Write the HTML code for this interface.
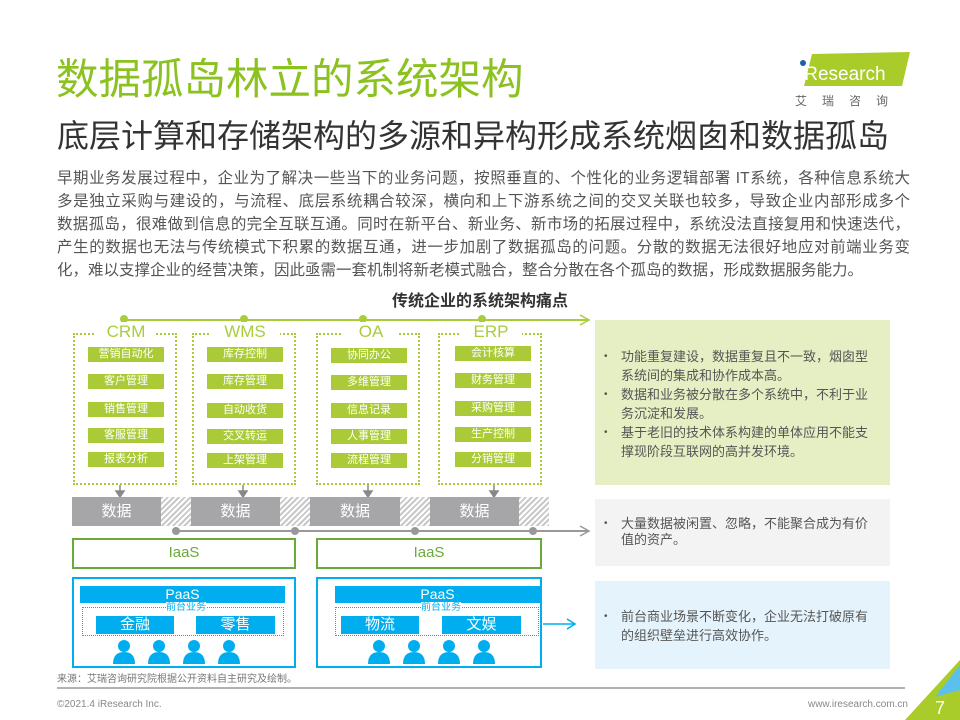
<!DOCTYPE html>
<html><head><meta charset="utf-8"><style>
*{margin:0;padding:0;box-sizing:border-box}
body{width:960px;height:720px;background:#fff;position:relative;overflow:hidden;font-family:"Liberation Sans","Noto Sans CJK SC",sans-serif}
.a{position:absolute}
.t1{left:56px;top:54px;font-size:42.5px;color:#8cc220;line-height:54px;white-space:nowrap}
.t2{left:57px;top:116px;font-size:32px;color:#333;line-height:40px;white-space:nowrap}
.p{left:57px;top:167px;width:853px;font-size:15.5px;color:#555;line-height:23px}
.p div{text-align:justify;text-align-last:justify;white-space:nowrap}
.db{border:2px dotted #a9cd3a}
.ttl{font-size:17px;color:#a9cd3a;background:#fff;padding:0 8px;text-align:center}
.g{background:#aacb37;color:#fff;font-size:11px;text-align:center;line-height:15px;height:15px;width:76px}
.gr{background:#a6a6a8;color:#fff;font-size:15px;text-align:center;line-height:29px;height:29px;top:497px}
.h{top:497px;height:29px;background:repeating-linear-gradient(135deg,#c8c8c8 0 2px,#fff 2px 4px)}
.ia{border:2px solid #6aaa3a;color:#6aaa3a;font-size:15px;text-align:center;line-height:26px;height:31px;top:538px}
.pa{border:2px solid #00aeef;top:577px;height:91px}
.bb{background:#00aeef;color:#fff;text-align:center}
.rp{left:595px;width:295px;font-size:13px;color:#555;line-height:19px;padding-left:26px;padding-right:14px}
.rp li{list-style:none;position:relative}
.rp li:before{content:"•";position:absolute;left:-17px;font-size:10px}
</style></head><body>
<div class="a t1">数据孤岛林立的系统架构</div>
<div class="a t2">底层计算和存储架构的多源和异构形成系统烟囱和数据孤岛</div>
<div class="a p">
<div>早期业务发展过程中，企业为了解决一些当下的业务问题，按照垂直的、个性化的业务逻辑部署 IT系统，各种信息系统大</div>
<div>多是独立采购与建设的，与流程、底层系统耦合较深，横向和上下游系统之间的交叉关联也较多，导致企业内部形成多个</div>
<div>数据孤岛，很难做到信息的完全互联互通。同时在新平台、新业务、新市场的拓展过程中，系统没法直接复用和快速迭代，</div>
<div>产生的数据也无法与传统模式下积累的数据互通，进一步加剧了数据孤岛的问题。分散的数据无法很好地应对前端业务变</div>
<div style="text-align-last:left">化，难以支撑企业的经营决策，因此亟需一套机制将新老模式融合，整合分散在各个孤岛的数据，形成数据服务能力。</div>
</div>
<div class="a" style="left:0;width:960px;top:287px;text-align:center;font-size:16px;font-weight:bold;color:#333">传统企业的系统架构痛点</div>

<!-- logo -->
<svg class="a" style="left:790px;top:48px" width="125" height="45"><polygon points="22,6 120,4 112,38 14,38" fill="#a9cc2a"/><circle cx="13" cy="15" r="3" fill="#1f5fa8"/><text x="10" y="32" font-size="19" fill="#fff" font-family="Liberation Sans">iResearch</text></svg>
<div class="a" style="left:795px;top:92px;font-size:12px;color:#666;letter-spacing:15px">艾瑞咨询</div>

<svg class="a" style="left:0;top:0" width="960" height="720">
<defs><g id="pp"><circle cx="0" cy="646" r="6"/><path d="M-11,664 Q-11,652 0,652 Q11,652 11,664Z"/></g></defs>
<line x1="124" y1="320" x2="588" y2="320" stroke="#a9cd3a" stroke-width="2"/>
<polyline points="580,315 589,320 580,325" fill="none" stroke="#a9cd3a" stroke-width="1.5"/>
<g fill="#a9cd3a"><circle cx="124" cy="319" r="4"/><circle cx="244" cy="319" r="4"/><circle cx="363" cy="319" r="4"/><circle cx="482" cy="319" r="4"/></g>
<g stroke="#888" stroke-width="1.5" fill="#888">
<line x1="120" y1="485" x2="120" y2="493"/><polygon points="116,491 124,491 120,497"/>
<line x1="243" y1="485" x2="243" y2="493"/><polygon points="239,491 247,491 243,497"/>
<line x1="368" y1="485" x2="368" y2="493"/><polygon points="364,491 372,491 368,497"/>
<line x1="494" y1="485" x2="494" y2="493"/><polygon points="490,491 498,491 494,497"/>
</g>
<line x1="176" y1="531" x2="588" y2="531" stroke="#999" stroke-width="2"/>
<polyline points="580,526 589,531 580,536" fill="none" stroke="#999" stroke-width="1.5"/>
<g fill="#999"><circle cx="176" cy="531" r="4"/><circle cx="295" cy="531" r="4"/><circle cx="415" cy="531" r="4"/><circle cx="533" cy="531" r="4"/></g>
<line x1="543" y1="624" x2="574" y2="624" stroke="#00aeef" stroke-width="1.5"/>
<polyline points="567,619 575,624 567,629" fill="none" stroke="#00aeef" stroke-width="1.5"/>
<line x1="57" y1="688" x2="905" y2="688" stroke="#999" stroke-width="1.5"/>
<polygon points="960,660 960,720 905,720" fill="#a9cc2a"/>
<polygon points="960,665 960,690 935,697" fill="#5bc0eb"/>
<text x="935" y="714" font-size="18" fill="#fff">7</text>
</svg>

<!-- system boxes -->
<div class="a db" style="left:73px;top:333px;width:104px;height:152px"></div>
<div class="a db" style="left:192px;top:333px;width:104px;height:152px"></div>
<div class="a db" style="left:316px;top:333px;width:104px;height:152px"></div>
<div class="a db" style="left:438px;top:333px;width:104px;height:152px"></div>
<div class="a ttl" style="left:96px;top:322px;width:60px">CRM</div>
<div class="a ttl" style="left:210px;top:322px;width:70px">WMS</div>
<div class="a ttl" style="left:343px;top:322px;width:56px">OA</div>
<div class="a ttl" style="left:460px;top:322px;width:62px">ERP</div>

<div class="a g" style="left:88px;top:347px">营销自动化</div>
<div class="a g" style="left:88px;top:374px">客户管理</div>
<div class="a g" style="left:88px;top:402px">销售管理</div>
<div class="a g" style="left:88px;top:428px">客服管理</div>
<div class="a g" style="left:88px;top:452px">报表分析</div>
<div class="a g" style="left:207px;top:347px">库存控制</div>
<div class="a g" style="left:207px;top:374px">库存管理</div>
<div class="a g" style="left:207px;top:403px">自动收货</div>
<div class="a g" style="left:207px;top:429px">交叉转运</div>
<div class="a g" style="left:207px;top:453px">上架管理</div>
<div class="a g" style="left:331px;top:348px">协同办公</div>
<div class="a g" style="left:331px;top:375px">多维管理</div>
<div class="a g" style="left:331px;top:403px">信息记录</div>
<div class="a g" style="left:331px;top:429px">人事管理</div>
<div class="a g" style="left:331px;top:453px">流程管理</div>
<div class="a g" style="left:455px;top:346px">会计核算</div>
<div class="a g" style="left:455px;top:373px">财务管理</div>
<div class="a g" style="left:455px;top:401px">采购管理</div>
<div class="a g" style="left:455px;top:427px">生产控制</div>
<div class="a g" style="left:455px;top:452px">分销管理</div>

<div class="a gr" style="left:72px;width:89px">数据</div><div class="a h" style="left:161px;width:30px"></div>
<div class="a gr" style="left:191px;width:89px">数据</div><div class="a h" style="left:280px;width:30px"></div>
<div class="a gr" style="left:310px;width:90px">数据</div><div class="a h" style="left:400px;width:30px"></div>
<div class="a gr" style="left:430px;width:89px">数据</div><div class="a h" style="left:519px;width:30px"></div>

<div class="a ia" style="left:72px;width:224px">IaaS</div>
<div class="a ia" style="left:316px;width:226px">IaaS</div>

<div class="a pa" style="left:72px;width:224px"></div>
<div class="a pa" style="left:316px;width:226px"></div>
<div class="a bb" style="left:80px;top:586px;width:205px;height:17px;font-size:14px;line-height:17px">PaaS</div>
<div class="a bb" style="left:335px;top:586px;width:205px;height:17px;font-size:14px;line-height:17px">PaaS</div>
<div class="a" style="left:82px;top:607px;width:202px;height:29px;border:1px dotted #00aeef"></div>
<div class="a" style="left:335px;top:607px;width:204px;height:29px;border:1px dotted #00aeef"></div>
<div class="a" style="left:166px;top:602px;font-size:10px;color:#00aeef;background:#fff;line-height:11px">前台业务</div>
<div class="a" style="left:421px;top:602px;font-size:10px;color:#00aeef;background:#fff;line-height:11px">前台业务</div>
<div class="a bb" style="left:96px;top:616px;width:78px;height:18px;font-size:15px;line-height:18px">金融</div>
<div class="a bb" style="left:196px;top:616px;width:79px;height:18px;font-size:15px;line-height:18px">零售</div>
<div class="a bb" style="left:341px;top:616px;width:78px;height:18px;font-size:15px;line-height:18px">物流</div>
<div class="a bb" style="left:442px;top:616px;width:79px;height:18px;font-size:15px;line-height:18px">文娱</div>

<svg class="a" style="left:0;top:0" width="960" height="720"><g fill="#00aeef">
<use href="#pp" x="124"/><use href="#pp" x="159"/><use href="#pp" x="194"/><use href="#pp" x="229"/>
<use href="#pp" x="379"/><use href="#pp" x="414"/><use href="#pp" x="449"/><use href="#pp" x="484"/>
</g></svg>

<div class="a rp" style="top:320px;height:165px;background:#e6efc3;padding-top:27px"><ul>
<li>功能重复建设，数据重复且不一致，烟囱型系统间的集成和协作成本高。</li>
<li>数据和业务被分散在多个系统中，不利于业务沉淀和发展。</li>
<li>基于老旧的技术体系构建的单体应用不能支撑现阶段互联网的高并发环境。</li></ul></div>
<div class="a rp" style="top:499px;height:67px;background:#f3f3f3;padding-top:17px;line-height:16px"><ul><li>大量数据被闲置、忽略，不能聚合成为有价值的资产。</li></ul></div>
<div class="a rp" style="top:581px;height:88px;background:#e5f4fc;padding-top:26px"><ul><li>前台商业场景不断变化，企业无法打破原有的组织壁垒进行高效协作。</li></ul></div>

<div class="a" style="left:57px;top:670px;font-size:10px;color:#777">来源：艾瑞咨询研究院根据公开资料自主研究及绘制。</div>
<div class="a" style="left:57px;top:699px;font-size:10px;color:#888">©2021.4 iResearch Inc.</div>
<div class="a" style="left:790px;top:699px;width:118px;text-align:right;font-size:10px;color:#888">www.iresearch.com.cn</div>
</body></html>
